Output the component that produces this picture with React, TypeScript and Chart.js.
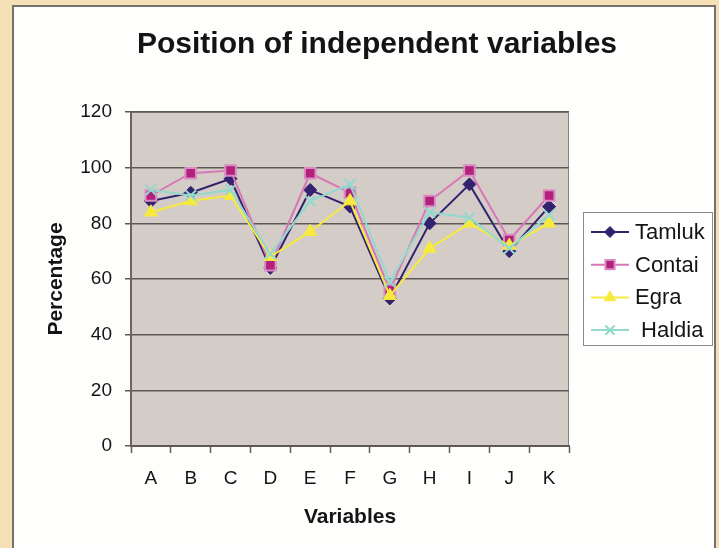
import React, { useEffect, useRef } from 'react';
import { Chart, registerables } from 'chart.js';
import { drawPoint } from 'chart.js/helpers';

Chart.register(...registerables);

const categories = ['A', 'B', 'C', 'D', 'E', 'F', 'G', 'H', 'I', 'J', 'K'];
const tamluk = [88, 91, 96, 64, 92, 86, 53, 80, 94, 70, 86];
const contai = [90, 98, 99, 65, 98, 91, 56, 88, 99, 74, 90];
const egra = [84, 88, 90, 68, 77, 88, 54, 71, 80, 72, 80];
const haldia = [92, 90, 92, 69, 88, 94, 59, 84, 82, 71, 83];
const seriesNames = ['Tamluk', 'Contai', 'Egra', ' Haldia'];
const yTicks = [0, 20, 40, 60, 80, 100, 120];
const chartTitle = 'Position of independent variables';
const xTitle = 'Variables';
const yTitle = 'Percentage';

const FONT = '"Liberation Sans", Arial, Helvetica, sans-serif';

const plotBg = {
  id: 'plotBg',
  beforeDraw(chart: any) {
    const { ctx, chartArea: a } = chart;
    ctx.save();
    ctx.fillStyle = '#D4CCC7';
    ctx.fillRect(a.left, a.top, a.right - a.left, a.bottom - a.top);
    ctx.strokeStyle = '#8a8480';
    ctx.lineWidth = 1;
    ctx.strokeRect(a.left + 0.5, a.top + 0.5, a.right - a.left - 1, a.bottom - a.top - 1);
    ctx.restore();
  },
  afterDraw(chart: any) {
    const { ctx } = chart;
    ctx.save();
    // title
    ctx.fillStyle = '#141414';
    ctx.font = `bold 30px ${FONT}`;
    ctx.textAlign = 'center';
    ctx.textBaseline = 'alphabetic';
    ctx.fillText(chartTitle, 377, 53);

    // legend
    const lx = 583, ly = 212, lw = 130, lh = 134;
    ctx.fillStyle = '#ffffff';
    ctx.fillRect(lx, ly, lw, lh);
    ctx.strokeStyle = '#8c8c8c';
    ctx.lineWidth = 1;
    ctx.strokeRect(lx + 0.5, ly + 0.5, lw - 1, lh - 1);
    chart.data.datasets.forEach((ds: any, i: number) => {
      const y = 232 + i * 32.7;
      ctx.strokeStyle = ds.borderColor;
      ctx.lineWidth = 2;
      ctx.beginPath();
      ctx.moveTo(591, y);
      ctx.lineTo(629, y);
      ctx.stroke();
      ctx.fillStyle = ds.pointBackgroundColor;
      ctx.strokeStyle = ds.pointBorderColor;
      ctx.lineWidth = ds.pointBorderWidth;
      drawPoint(ctx, { pointStyle: ds.pointStyle, radius: ds.pointRadius - 1, rotation: 0, borderWidth: ds.pointBorderWidth }, 610, y);
      ctx.fillStyle = '#141414';
      ctx.font = `22px ${FONT}`;
      ctx.textAlign = 'left';
      ctx.textBaseline = 'middle';
      ctx.fillText(ds.label, 635, y + 1);
    });
    ctx.restore();
  },
};

export default function App() {
  const ref = useRef<HTMLCanvasElement | null>(null);

  useEffect(() => {
    if (!ref.current) return;
    const chart = new Chart(ref.current, {
      type: 'line',
      data: {
        labels: categories,
        datasets: [
          {
            label: seriesNames[0],
            data: tamluk,
            borderColor: '#33236F',
            borderWidth: 2,
            pointStyle: 'rectRot',
            pointRadius: 6.5,
            pointBackgroundColor: '#33236F',
            pointBorderColor: '#33236F',
            pointBorderWidth: 1,
            order: 4,
          },
          {
            label: seriesNames[1],
            data: contai,
            borderColor: '#D877B6',
            borderWidth: 2,
            pointStyle: 'rect',
            pointRadius: 7.5,
            pointBackgroundColor: '#B3217D',
            pointBorderColor: '#D98CC2',
            pointBorderWidth: 2,
            order: 3,
          },
          {
            label: seriesNames[2],
            data: egra,
            borderColor: '#F7EA3E',
            borderWidth: 2,
            pointStyle: 'triangle',
            pointRadius: 7.5,
            pointBackgroundColor: '#F7EA3E',
            pointBorderColor: '#F7EA3E',
            pointBorderWidth: 1,
            order: 2,
          },
          {
            label: seriesNames[3],
            data: haldia,
            borderColor: '#93D9CE',
            borderWidth: 2,
            pointStyle: 'crossRot',
            pointRadius: 7.5,
            pointBackgroundColor: '#93D9CE',
            pointBorderColor: '#93D9CE',
            pointBorderWidth: 2,
            order: 1,
          },
        ],
      },
      options: {
        animation: false,
        responsive: false,
        events: [],
        layout: { padding: { top: 112, right: 150, left: 0, bottom: 0 } },
        plugins: {
          legend: { display: false },
          title: { display: false },
          tooltip: { enabled: false },
        },
        elements: { line: { tension: 0 } },
        scales: {
          x: {
            type: 'category',
            offset: true,
            grid: {
              offset: true,
              drawOnChartArea: false,
              drawTicks: true,
              tickLength: 7,
              tickColor: '#5e5955',
              tickWidth: 1.5,
            },
            border: { display: true, color: '#5e5955', width: 2 },
            ticks: {
              color: '#141414',
              font: { family: FONT, size: 19 },
              padding: 14,
              maxRotation: 0,
              autoSkip: false,
            },
            title: {
              display: true,
              text: xTitle,
              color: '#141414',
              font: { family: FONT, size: 21, weight: 'bold' },
              padding: { top: 0, bottom: 18 },
            },
            afterFit(scale: any) {
              scale.height = 102;
            },
          },
          y: {
            type: 'linear',
            min: 0,
            max: 120,
            afterBuildTicks(scale: any) {
              scale.ticks = yTicks.map((v) => ({ value: v }));
            },
            grid: {
              color: '#5e5955',
              lineWidth: 1.5,
              drawTicks: true,
              tickLength: 6,
              tickColor: '#5e5955',
            },
            border: { display: true, color: '#6b6560', width: 2 },
            ticks: {
              color: '#141414',
              font: { family: FONT, size: 19 },
              padding: 13,
            },
            title: {
              display: true,
              text: yTitle,
              color: '#141414',
              font: { family: FONT, size: 21, weight: 'bold' },
              padding: { top: 44, bottom: 0 },
            },
            afterFit(scale: any) {
              scale.width = 131;
            },
          },
        },
      },
      plugins: [plotBg],
    });
    return () => chart.destroy();
  }, []);

  return (
    <div style={{ position: 'fixed', left: 0, top: 0, width: 719, height: 548, background: '#F5DFB6', overflow: 'hidden' }}>
      <div
        style={{
          position: 'absolute',
          left: 12,
          top: 5,
          width: 704,
          height: 600,
          background: '#FEFEFD',
          border: '2px solid #77716c',
          boxSizing: 'border-box',
        }}
      />
      <canvas ref={ref} width={719} height={548} style={{ position: 'absolute', left: 0, top: 0, width: 719, height: 548 }} />
    </div>
  );
}
